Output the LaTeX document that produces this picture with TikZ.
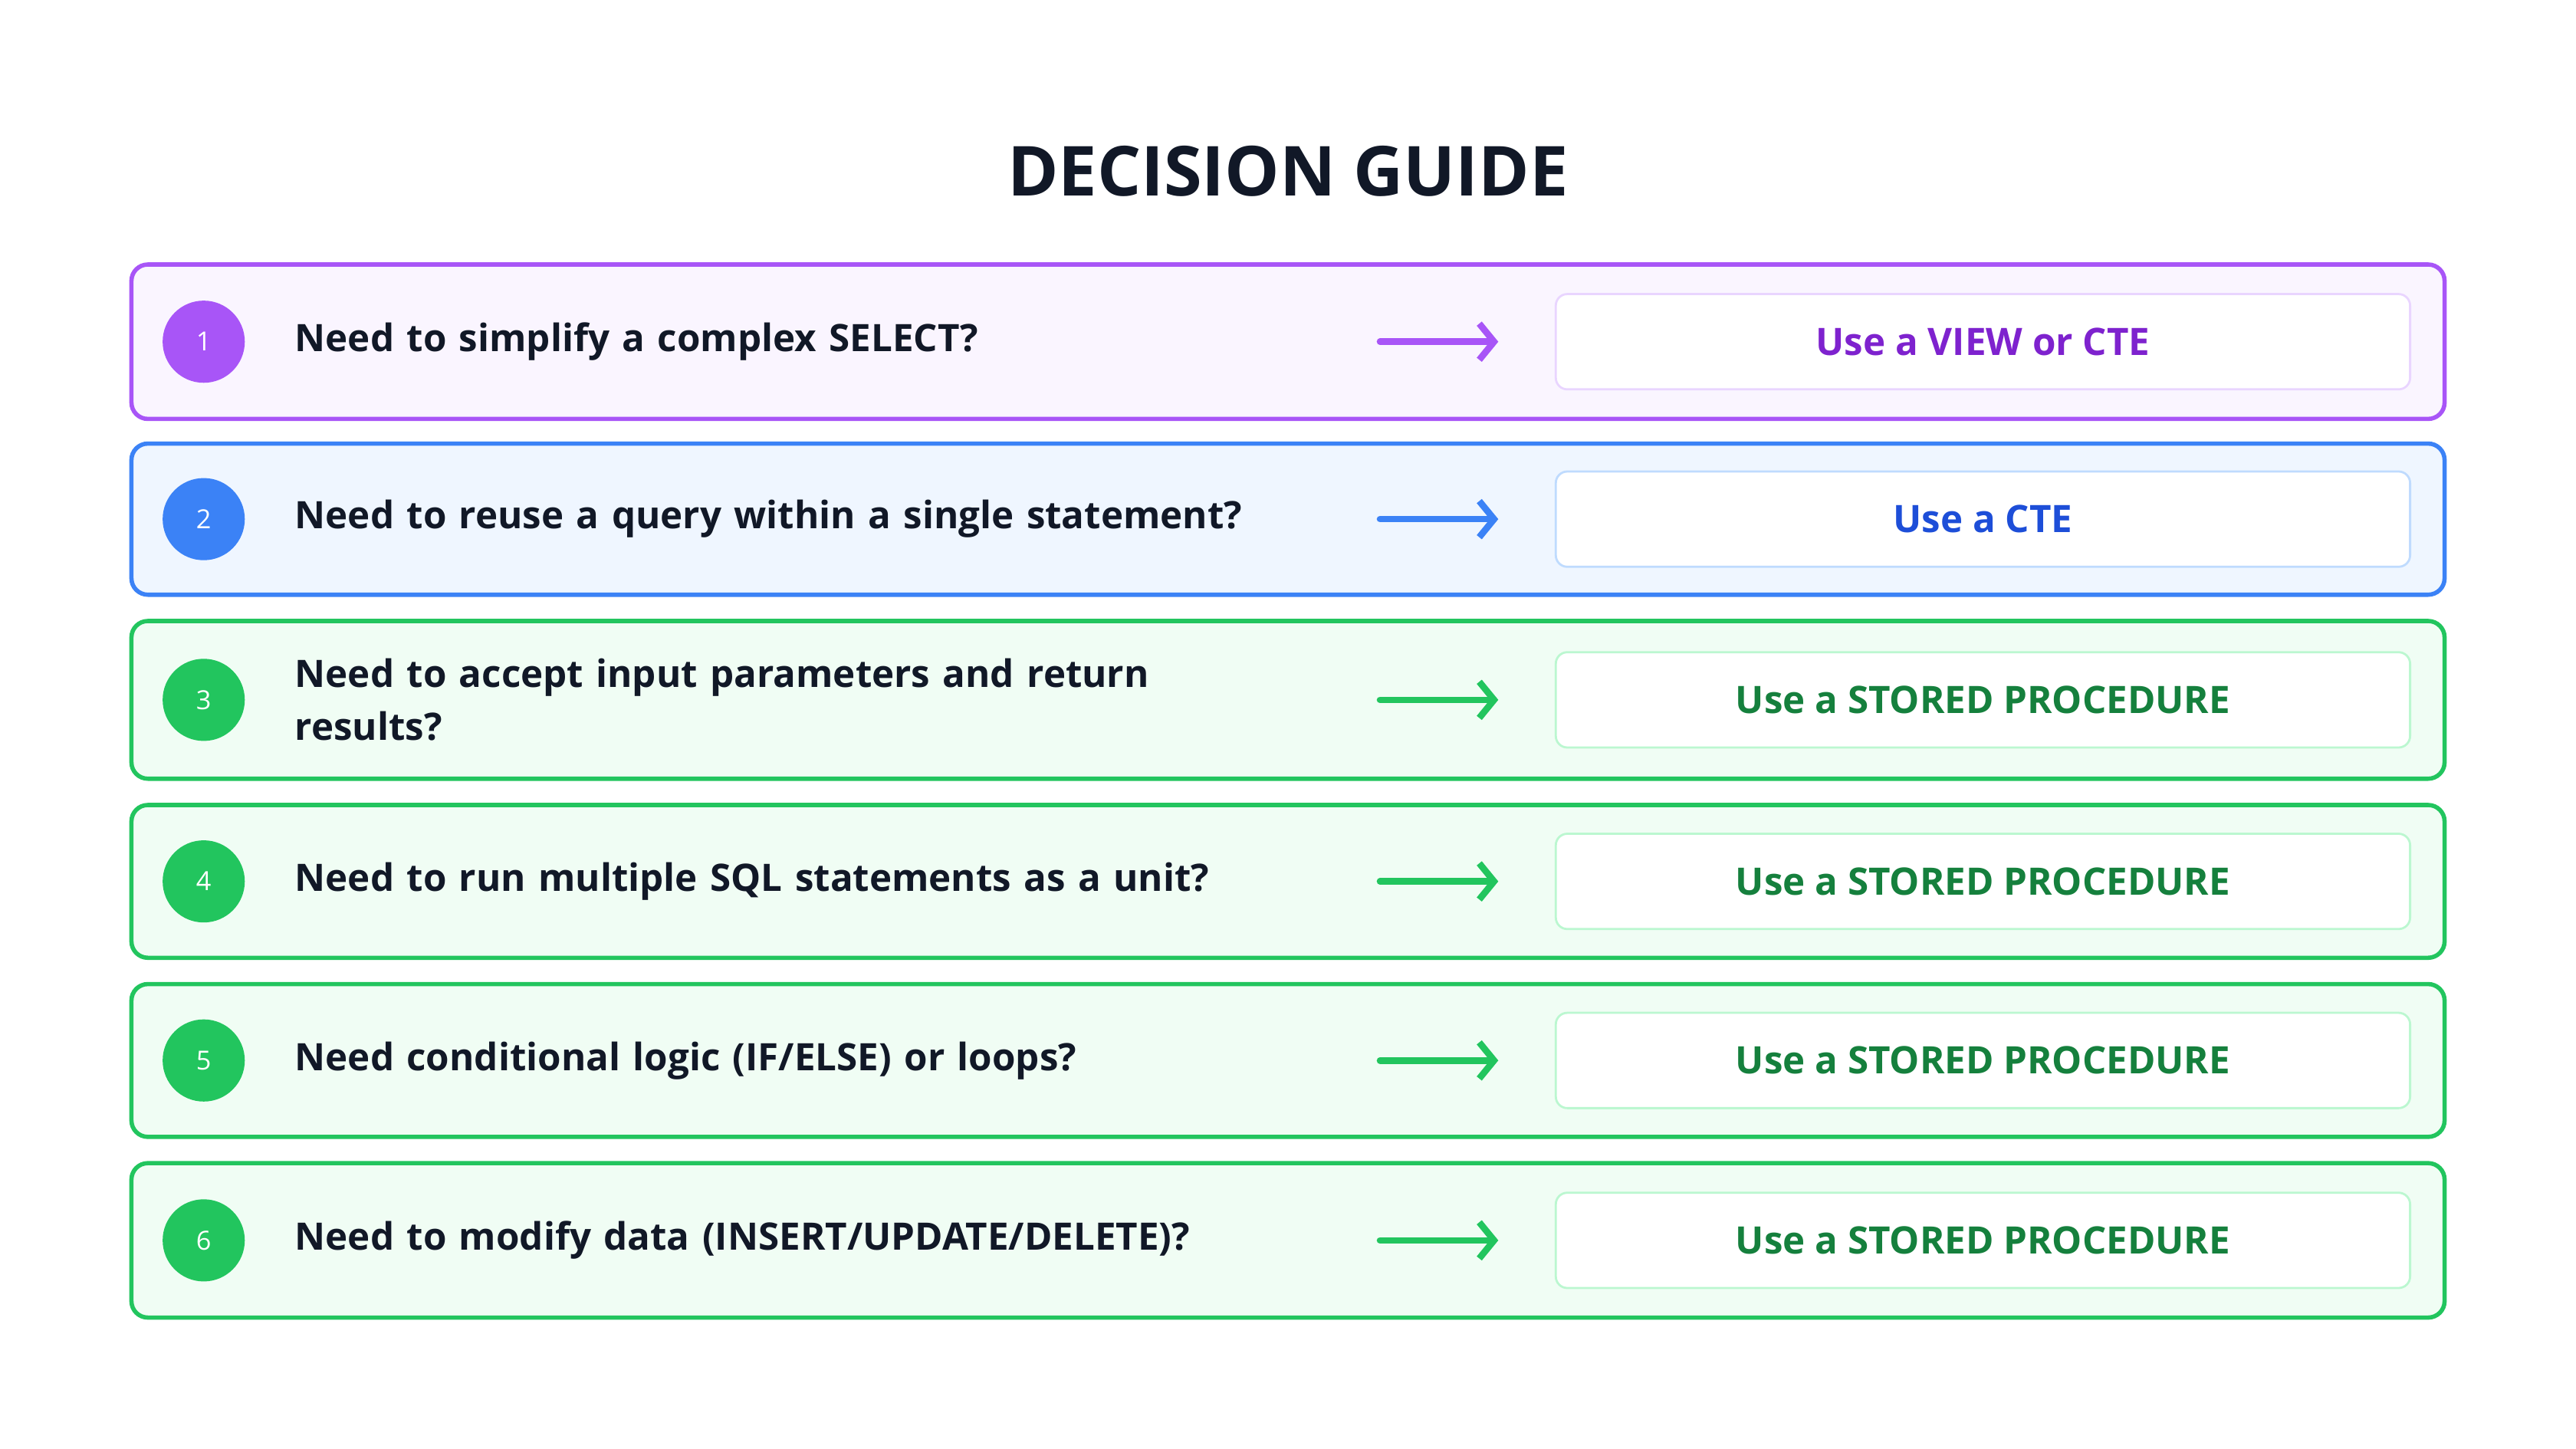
\documentclass[tikz,border=0pt]{standalone}
\usepackage{fontspec}
\setmainfont{Open Sans}
\usetikzlibrary{arrows.meta}
\definecolor{pB}{HTML}{A855F7}\definecolor{pF}{HTML}{FAF5FF}\definecolor{pT}{HTML}{7E22CE}\definecolor{pL}{HTML}{E9D5FF}
\definecolor{bB}{HTML}{3B82F6}\definecolor{bF}{HTML}{EFF6FF}\definecolor{bT}{HTML}{1D4ED8}\definecolor{bL}{HTML}{BFDBFE}
\definecolor{gB}{HTML}{22C55E}\definecolor{gF}{HTML}{F0FDF4}\definecolor{gT}{HTML}{15803D}\definecolor{gL}{HTML}{BBF7D0}
\definecolor{ink}{HTML}{111827}
\begin{document}
\begin{tikzpicture}[x=1pt,y=-1pt,
 rowbox/.style={draw=#1B,fill=#1F,line width=2.6pt,rounded corners=10pt},
 num/.style={circle,fill=#1B,minimum size=50pt,inner sep=0pt,text=white,font=\fontsize{16}{18}\selectfont},
 ques/.style={anchor=west,text width=580pt,align=left,text=ink,font=\bfseries\fontsize{23}{32}\selectfont},
 ans/.style={draw=#1L,fill=white,line width=1.3pt,rounded corners=7pt,minimum width=520pt,minimum height=58pt,text=#1T,font=\bfseries\fontsize{23}{28}\selectfont},
 arr/.style={draw=#1B,line width=4pt,-{Straight Barb[length=9pt,width=22pt,line width=4pt]},line cap=round}]
\useasboundingbox[fill=white] (0,0) rectangle (1568,882);
\node[text=ink,font=\bfseries\fontsize{42}{50}\selectfont] (title) at (784,104) {DECISION GUIDE};
\foreach \i/\c/\ya/\yb/\q/\a in {
 1/p/161/255/{Need to simplify a complex SELECT?}/{Use a VIEW or CTE},
 2/b/270/362/{Need to reuse a query within a single statement?}/{Use a CTE},
 3/g/378/474/{Need to accept input parameters and return\\results?}/{Use a STORED PROCEDURE},
 4/g/490/583/{Need to run multiple SQL statements as a unit?}/{Use a STORED PROCEDURE},
 5/g/599/692/{Need conditional logic (IF/ELSE) or loops?}/{Use a STORED PROCEDURE},
 6/g/708/802/{Need to modify data (INSERT/UPDATE/DELETE)?}/{Use a STORED PROCEDURE}}{
 \pgfmathsetmacro{\ym}{(\ya+\yb)/2}
 \draw[rowbox=\c] (80,\ya) rectangle (1488,\yb);
 \node[num=\c] (n\i) at (124,\ym) {\i};
 \node[ques] (q\i) at (176,\ym) {\q};
 \coordinate (s\i) at (840,\ym);
 \node[ans=\c] (a\i) at (1207,\ym) {\a};
 \coordinate (e\i) at (912,\ym);
 \draw[arr=\c] (s\i) -- (e\i);
}
\end{tikzpicture}
\end{document}
